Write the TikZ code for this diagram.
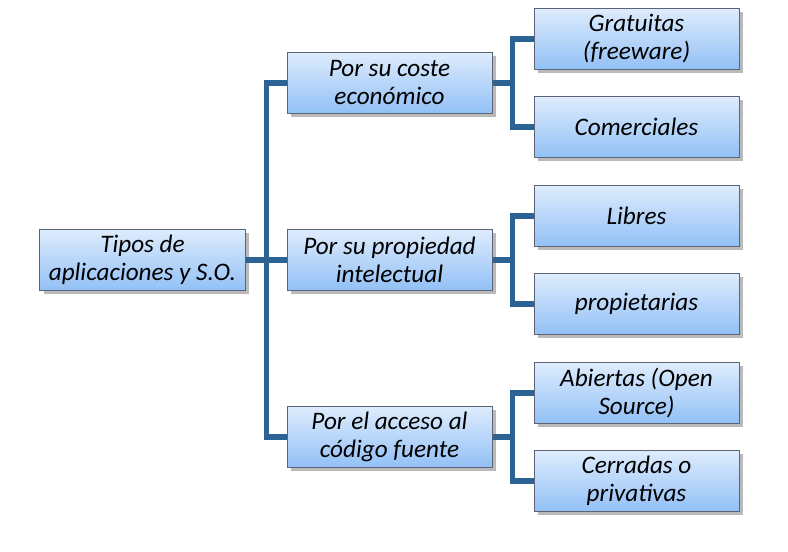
\documentclass[tikz,border=0pt]{standalone}
\usepackage{fontspec}
\setmainfont{Carlito}
\usepackage{tikz}
\usetikzlibrary{positioning,shadows}
\definecolor{boxtop}{RGB}{222,236,253}
\definecolor{boxbot}{RGB}{146,192,246}
\definecolor{boxline}{RGB}{92,100,118}
\definecolor{conline}{RGB}{44,98,148}

\begin{document}
\begin{tikzpicture}[node distance=44pt,on grid,
	caja/.style={draw=boxline, line width=0.5pt, top color=boxtop, bottom color=boxbot,
		minimum width=102.5pt, minimum height=30.5pt, inner sep=1pt, align=center,
		font=\fontsize{12.6}{14}\selectfont\itshape,
		drop shadow={shadow xshift=1.8pt, shadow yshift=-1.8pt, fill=black!45, opacity=0.6}},
	rama/.style={draw=conline, line width=2.6pt, line join=miter}]
	\useasboundingbox (-71.25pt,-146pt) rectangle (322.75pt,130pt);
	\node[caja] (tipos) {Tipos de\\aplicaciones y S.O.};
	 \node[caja] (prop) [right=123.5pt of tipos] {Por su propiedad\\intelectual};
	 \node[caja] (coste) [above=88.5pt of prop] {Por su coste\\económico};
	 \node[caja] (acceso) [below=88.5pt of prop] {Por el acceso al\\código fuente};
	 
	 \node[caja] (grat) [above right=22pt and 123.5pt of coste] {Gratuitas\\(freeware)};
	 \node[caja] (com) [below=of grat] {Comerciales};
	 \node[caja] (lib) [above right=22pt and 123.5pt of prop] {Libres};
	 \node[caja] (propi) [below=of lib] {propietarias};
	 \node[caja] (abi) [above right=22pt and 123.5pt of acceso] {Abiertas (Open\\Source)};
	 \node[caja] (cerr) [below=of abi] {Cerradas o\\privativas};
	 
	  \path[rama]
	    (tipos.east) -- (prop.west)
	    (coste.west) -- ++(-10pt,0) |- (acceso.west)
	    (coste.east) -- ++(10.5pt,0)
	    (grat.west) -- ++(-10.5pt,0) |- (com.west)
	    (prop.east) -- ++(10.5pt,0)
	    (lib.west) -- ++(-10.5pt,0) |- (propi.west)
	    (acceso.east) -- ++(10.5pt,0)
	    (abi.west) -- ++(-10.5pt,0) |- (cerr.west)
	  ;
  \end{tikzpicture}
\end{document}
